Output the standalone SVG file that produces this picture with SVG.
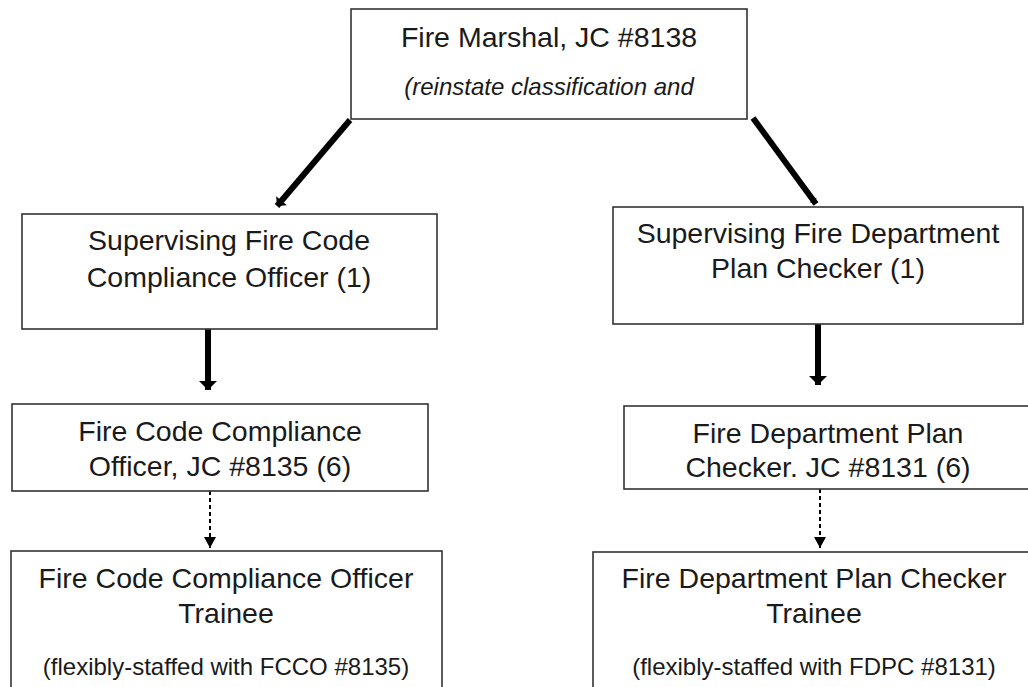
<svg xmlns="http://www.w3.org/2000/svg" width="1028" height="687" viewBox="0 0 1028 687">
<defs>
<style>
.box{fill:#fff;stroke:#333;stroke-width:1.6}
.t{font-family:"Liberation Sans",Arial,sans-serif;font-size:28.5px;fill:#1a1a1a;text-anchor:middle}
.s{font-family:"Liberation Sans",Arial,sans-serif;font-size:24px;fill:#1a1a1a;text-anchor:middle}
.i{font-style:italic}
.thick{stroke:#000;stroke-width:6;fill:none}
.diag{stroke:#000;stroke-width:6;fill:none}
.dash{stroke:#000;stroke-width:2;stroke-dasharray:4 3;fill:none}
</style>
<marker id="hThick" markerUnits="userSpaceOnUse" markerWidth="20" markerHeight="20" viewBox="0 0 20 20" refX="10" refY="10" orient="auto">
<path d="M1,1 L10,10 L1,19 Z" fill="#000"/>
</marker>
<marker id="hDiag" markerUnits="userSpaceOnUse" markerWidth="16" markerHeight="16" viewBox="0 0 16 16" refX="8" refY="8" orient="auto">
<path d="M1,1 L8,8 L1,15 Z" fill="#000"/>
</marker>
<marker id="hSmall" markerUnits="userSpaceOnUse" markerWidth="12" markerHeight="12" viewBox="0 0 12 12" refX="6" refY="6" orient="auto">
<path d="M1,2 L6,6 L1,10 Z" fill="#000"/>
</marker>
<marker id="hDash" markerUnits="userSpaceOnUse" markerWidth="14" markerHeight="14" viewBox="0 0 14 14" refX="12" refY="7" orient="auto">
<path d="M1,1 L12,7 L1,13 Z" fill="#000"/>
</marker>
</defs>
<rect width="1028" height="687" fill="#fff"/>
<g id="connectors">
<line class="diag" x1="350" y1="120" x2="277" y2="206" marker-end="url(#hDiag)"/>
<line class="diag" x1="753" y1="118" x2="816" y2="204" marker-end="url(#hSmall)"/>
<line class="thick" x1="208" y1="329" x2="208" y2="390" marker-end="url(#hThick)"/>
<line class="thick" x1="818" y1="324" x2="818" y2="385" marker-end="url(#hThick)"/>
<line class="dash" x1="210" y1="491" x2="210" y2="548" marker-end="url(#hDash)"/>
<line class="dash" x1="820" y1="489" x2="820" y2="548" marker-end="url(#hDash)"/>
</g>
<g id="fire-marshal">
<rect class="box" x="351" y="9" width="396" height="110"/>
<text class="t" x="549" y="47">Fire Marshal, JC #8138</text>
<text class="s i" x="549" y="95">(reinstate classification and</text>
</g>
<g id="sup-fcco">
<rect class="box" x="22" y="214" width="415" height="115"/>
<text class="t" x="229" y="250">Supervising Fire Code</text>
<text class="t" x="229" y="287">Compliance Officer (1)</text>
</g>
<g id="sup-fdpc">
<rect class="box" x="613" y="207" width="410" height="117"/>
<text class="t" x="818" y="243">Supervising Fire Department</text>
<text class="t" x="818" y="278">Plan Checker (1)</text>
</g>
<g id="fcco">
<rect class="box" x="12" y="404" width="416" height="87"/>
<text class="t" x="220" y="441">Fire Code Compliance</text>
<text class="t" x="220" y="476">Officer, JC #8135 (6)</text>
</g>
<g id="fdpc">
<rect class="box" x="624" y="406" width="410" height="83"/>
<text class="t" x="828" y="443">Fire Department Plan</text>
<text class="t" x="828" y="477">Checker. JC #8131 (6)</text>
</g>
<g id="fcco-trainee">
<rect class="box" x="11" y="551" width="431" height="150"/>
<text class="t" x="226" y="588">Fire Code Compliance Officer</text>
<text class="t" x="226" y="623">Trainee</text>
<text class="s" x="226" y="675">(flexibly-staffed with FCCO #8135)</text>
</g>
<g id="fdpc-trainee">
<rect class="box" x="593" y="552" width="442" height="150"/>
<text class="t" x="814" y="588">Fire Department Plan Checker</text>
<text class="t" x="814" y="623">Trainee</text>
<text class="s" x="814" y="675">(flexibly-staffed with FDPC #8131)</text>
</g>
</svg>
